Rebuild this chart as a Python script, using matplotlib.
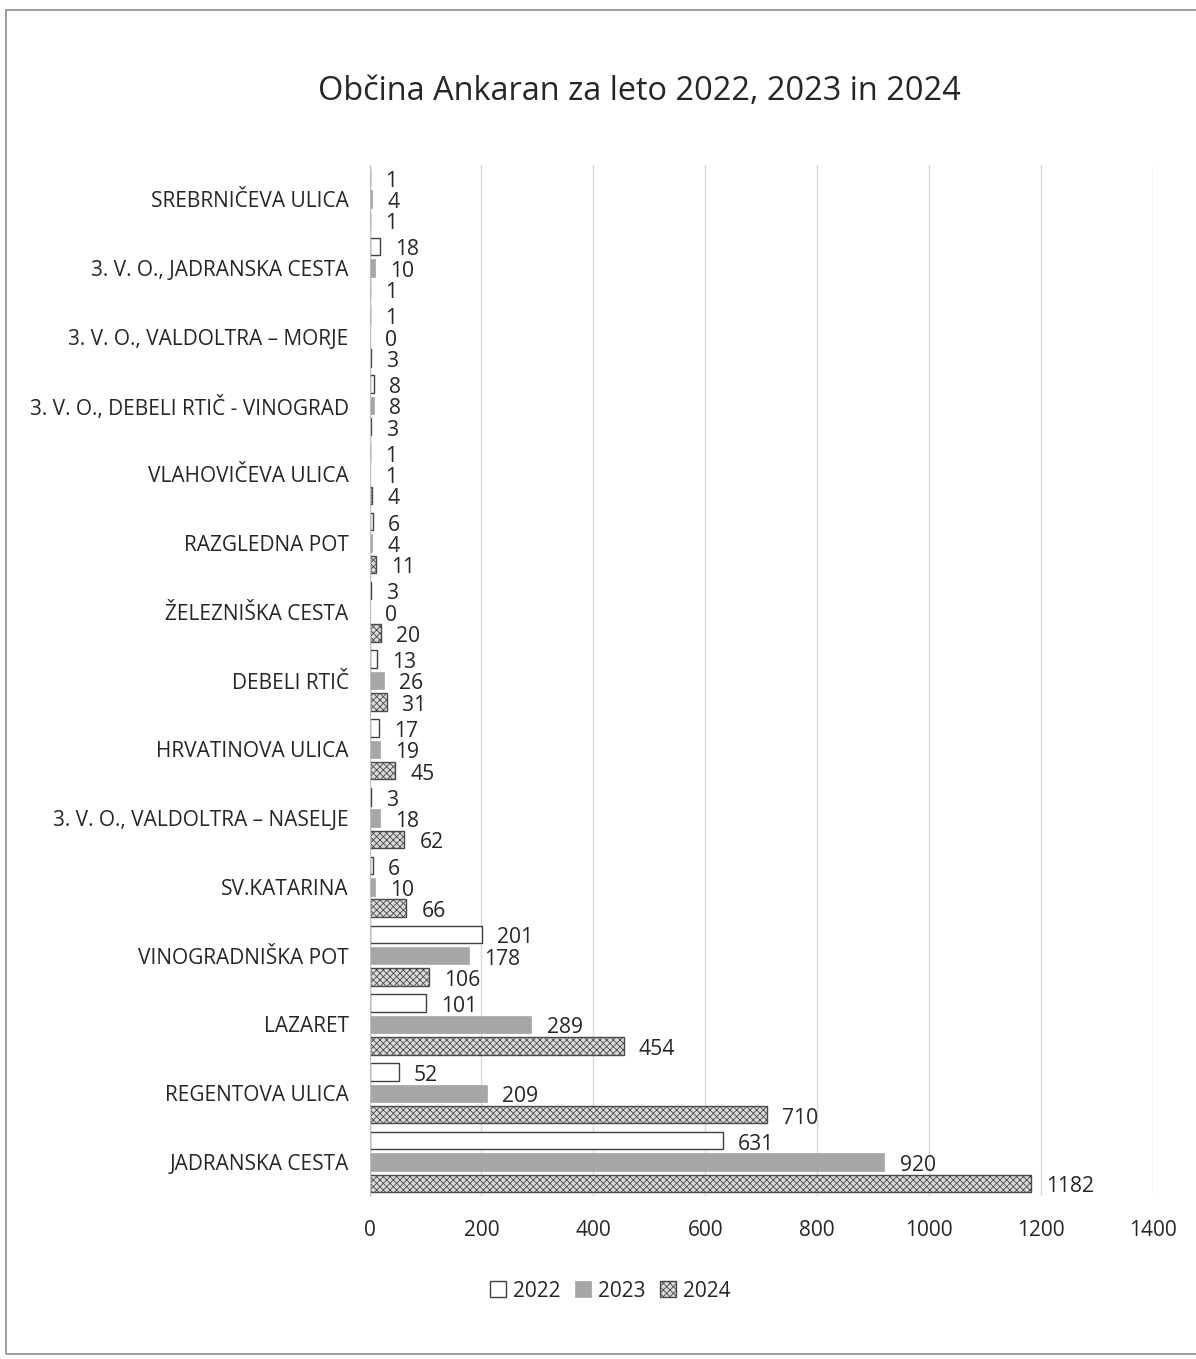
import matplotlib.pyplot as plt
import matplotlib.patches as mpatches
import numpy as np

plt.rcParams['font.family'] = ['Open Sans', 'DejaVu Sans']
plt.rcParams['hatch.linewidth'] = 0.6

# podatki
ulice = ['SREBRNIČEVA ULICA', '3. V. O., JADRANSKA CESTA', '3. V. O., VALDOLTRA – MORJE',
         '3. V. O., DEBELI RTIČ - VINOGRAD', 'VLAHOVIČEVA ULICA', 'RAZGLEDNA POT',
         'ŽELEZNIŠKA CESTA', 'DEBELI RTIČ', 'HRVATINOVA ULICA', '3. V. O., VALDOLTRA – NASELJE',
         'SV.KATARINA', 'VINOGRADNIŠKA POT', 'LAZARET', 'REGENTOVA ULICA', 'JADRANSKA CESTA']
leta = ['2022', '2023', '2024']
v2022 = [1, 18, 1, 8, 1, 6, 3, 13, 17, 3, 6, 201, 101, 52, 631]
v2023 = [4, 10, 0, 8, 1, 4, 0, 26, 19, 18, 10, 178, 289, 209, 920]
v2024 = [1, 1, 3, 3, 4, 11, 20, 31, 45, 62, 66, 106, 454, 710, 1182]

barva_txt = '#262626'

fig = plt.figure(figsize=(11.96, 13.59), dpi=100)
ax = fig.add_axes([0.309, 0.1196, 0.655, 0.7593])

y = np.arange(len(ulice))
h = 0.31
stili = [
    dict(facecolor='white', edgecolor='#404040', linewidth=1.0),
    dict(facecolor='#a6a6a6', edgecolor='#a6a6a6', linewidth=0.5),
    dict(facecolor='#dadada', edgecolor='#4a4a4a', linewidth=1.0, hatch='xxxxx'),
]
serije = [v2022, v2023, v2024]
for k, (vals, st) in enumerate(zip(serije, stili)):
    pos = y + (k - 1) * h
    bars = ax.barh(pos, vals, height=h * 0.82, label=leta[k], zorder=3, **st)
    for b, v in zip(bars, vals):
        ax.annotate(str(v), (v, b.get_y() + b.get_height() / 2), xytext=(11, -2.5),
                    textcoords='offset points', va='center', ha='left',
                    fontsize=15.2, color=barva_txt)

ax.set_ylim(len(ulice) - 0.5, -0.5)
ax.set_xlim(0, 1400)
ax.set_xticks(range(0, 1401, 200))
ax.set_yticks(y)
ax.set_yticklabels(ulice)
ax.tick_params(axis='y', length=0, pad=15, labelsize=15, labelcolor=barva_txt)
ax.tick_params(axis='x', length=0, pad=17, labelsize=15, labelcolor=barva_txt)
ax.grid(axis='x', color='#d9d9d9', linewidth=1.0, zorder=0)
for s in ['top', 'right', 'bottom']:
    ax.spines[s].set_visible(False)
ax.spines['left'].set_color('#bfbfbf')
ax.spines['left'].set_zorder(4)

fig.suptitle('Občina Ankaran za leto 2022, 2023 in 2024', x=0.535, y=0.945,
             fontsize=23.4, color=barva_txt)

h_leg = [mpatches.Patch(**st) for st in stili]
fig.legend(h_leg, leta, loc='center', bbox_to_anchor=(0.51, 0.05), ncol=3, frameon=False,
           fontsize=15, handlelength=0.8, handleheight=0.8, handletextpad=0.3,
           columnspacing=0.7, labelcolor=barva_txt)

# okvir grafa
fig.patches.append(mpatches.Rectangle((0.005, 0.004), 1.1, 0.989, transform=fig.transFigure,
                                      fill=False, edgecolor='#8c8c8c', linewidth=1.2))

fig.savefig('out.png', dpi=100)
